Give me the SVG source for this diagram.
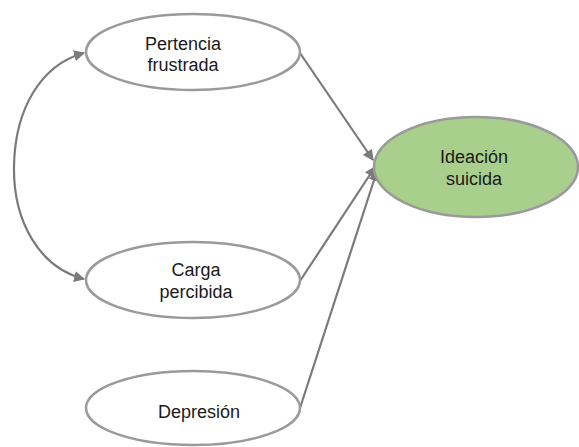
<svg xmlns="http://www.w3.org/2000/svg" width="579" height="447" viewBox="0 0 579 447">
<style>
.node{fill:#fff;stroke:#9a9a9a;stroke-width:2.5}
.main{fill:#a8d08c}
.lbl{font-family:"Liberation Sans",Arial,sans-serif;font-size:18px;fill:#1a1a1a;text-anchor:middle}
.edge{fill:none;stroke:#7a7a7a;stroke-width:2.2}
</style>
<defs>
<marker id="ah" viewBox="0 0 10 10" refX="9" refY="5" markerWidth="5" markerHeight="5" orient="auto-start-reverse" markerUnits="strokeWidth">
<path d="M0,0 L10,5 L0,10 z" fill="#7a7a7a"/>
</marker>
</defs>
<rect width="579" height="447" fill="#fff"/>
<g id="connectors">
<path class="edge" d="M84 53 C40 65, 15 110, 14 166 C13 222, 40 268, 84 279" marker-start="url(#ah)" marker-end="url(#ah)"/>
<path class="edge" d="M300 53 L373 160" marker-end="url(#ah)"/>
<path class="edge" d="M300 281 L375 167" marker-end="url(#ah)"/>
<path class="edge" d="M300 408 L377 171" marker-end="url(#ah)"/>
</g>
<g id="pertencia">
<ellipse class="node" cx="193" cy="52" rx="107" ry="38"/>
<text class="lbl" x="183" y="50">Pertencia</text>
<text class="lbl" x="183" y="71">frustrada</text>
</g>
<g id="ideacion">
<ellipse class="node main" cx="476" cy="167" rx="102" ry="50"/>
<text class="lbl" x="474" y="163">Ideación</text>
<text class="lbl" x="474" y="185">suicida</text>
</g>
<g id="carga">
<ellipse class="node" cx="193" cy="280" rx="107" ry="38"/>
<text class="lbl" x="196" y="276">Carga</text>
<text class="lbl" x="196" y="298">percibida</text>
</g>
<g id="depresion">
<ellipse class="node" cx="193" cy="408" rx="107" ry="37"/>
<text class="lbl" x="199" y="418">Depresión</text>
</g>
</svg>
